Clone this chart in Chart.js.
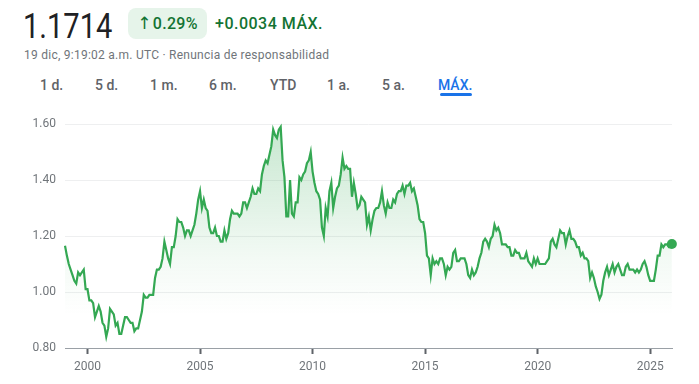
<!DOCTYPE html>
<html><head><meta charset="utf-8">
<script src="https://cdn.jsdelivr.net/npm/chart.js@4.4.1/dist/chart.umd.min.js"></script>
<style>
html,body{margin:0;padding:0;background:#fff;width:699px;height:384px;overflow:hidden;font-family:Roboto,Arial,sans-serif;}
.abs{position:absolute;white-space:nowrap;}
#price{left:23px;top:9px;font-size:35px;line-height:35px;color:#202124;transform:scaleX(0.83);transform-origin:0 0;}
#badge{left:128px;top:8px;width:79px;height:31px;border-radius:8px;background:#e6f4ea;color:#137333;font-size:16px;line-height:31px;text-align:center;font-weight:500;letter-spacing:0.3px;}
#badge .ar{font-family:"DejaVu Sans",sans-serif;font-size:17px;font-weight:400;margin-right:1px;}
#chg{left:215px;top:13px;font-size:16px;line-height:22px;color:#137333;font-weight:500;letter-spacing:0.5px;}
#sub{left:24px;top:47px;font-size:12px;line-height:16px;color:#70757a;letter-spacing:0.25px;}
.tab{top:76px;font-size:14px;line-height:18px;color:#5f6368;font-weight:500;}
#underline{left:440px;top:93px;width:32px;height:3px;border-radius:2px;background:#1a73e8;}
#wrap{position:absolute;left:0;top:100px;width:699px;height:284px;}
</style></head><body>
<div class="abs" id="price">1.1714</div>
<div class="abs" id="badge"><span class="ar">↑</span>0.29%</div>
<div class="abs" id="chg">+0.0034 MÁX.</div>
<div class="abs" id="sub">19 dic, 9:19:02 a.m. UTC · Renuncia de responsabilidad</div>
<div class="abs tab" style="left:40px">1 d.</div>
<div class="abs tab" style="left:95px">5 d.</div>
<div class="abs tab" style="left:150px">1 m.</div>
<div class="abs tab" style="left:209px">6 m.</div>
<div class="abs tab" style="left:270px">YTD</div>
<div class="abs tab" style="left:327px">1 a.</div>
<div class="abs tab" style="left:382px">5 a.</div>
<div class="abs tab" style="left:438px;color:#1a73e8">MÁX.</div>
<div class="abs" id="underline"></div>
<div id="wrap"><canvas id="c" width="699" height="284"></canvas></div>
<script>
// EUR/USD, month-end readings (one row per year, Jan..Dec)
const years = [1999,2000,2001,2002,2003,2004,2005,2006,2007,2008,2009,2010,2011,2012,2013,2014,2015,2016,2017,2018,2019,2020,2021,2022,2023,2024,2025];
const startDate = 1999.0;
const startValue = 1.165;
const lastDate = 2025.964;   // 19 dic 2025
const monthly = [
  [1.13,1.10,1.08,1.06,1.04,1.03,1.07,1.06,1.07,1.08,1.01,1.01],
  [0.97,0.97,0.96,0.91,0.93,0.95,0.93,0.89,0.88,0.84,0.87,0.94],
  [0.93,0.92,0.88,0.89,0.85,0.85,0.88,0.91,0.91,0.90,0.89,0.89],
  [0.86,0.87,0.87,0.90,0.93,0.99,0.98,0.98,0.99,0.99,0.99,1.05],
  [1.08,1.08,1.09,1.12,1.18,1.15,1.12,1.10,1.16,1.16,1.20,1.26],
  [1.25,1.25,1.23,1.20,1.22,1.22,1.20,1.22,1.24,1.28,1.33,1.36],
  [1.30,1.33,1.30,1.29,1.23,1.21,1.21,1.23,1.20,1.20,1.18,1.18],
  [1.22,1.19,1.21,1.26,1.29,1.28,1.28,1.28,1.27,1.28,1.32,1.32],
  [1.30,1.32,1.34,1.37,1.35,1.35,1.37,1.36,1.42,1.45,1.47,1.46],
  [1.49,1.52,1.58,1.56,1.55,1.58,1.59,1.47,1.41,1.27,1.27,1.40],
  [1.28,1.27,1.32,1.32,1.41,1.40,1.42,1.43,1.46,1.47,1.50,1.43],
  [1.39,1.36,1.35,1.33,1.23,1.20,1.30,1.27,1.36,1.39,1.30,1.34],
  [1.37,1.38,1.42,1.48,1.44,1.45,1.44,1.44,1.34,1.39,1.35,1.30],
  [1.31,1.34,1.33,1.32,1.24,1.27,1.22,1.26,1.29,1.30,1.30,1.32],
  [1.36,1.31,1.28,1.32,1.30,1.30,1.33,1.32,1.35,1.36,1.36,1.38],
  [1.35,1.38,1.38,1.39,1.36,1.37,1.34,1.31,1.26,1.25,1.25,1.21],
  [1.13,1.12,1.06,1.12,1.10,1.11,1.10,1.12,1.12,1.10,1.06,1.09],
  [1.08,1.09,1.14,1.15,1.11,1.11,1.12,1.12,1.12,1.10,1.06,1.05],
  [1.08,1.06,1.07,1.09,1.12,1.14,1.18,1.19,1.18,1.16,1.19,1.20],
  [1.24,1.22,1.23,1.21,1.17,1.17,1.17,1.16,1.16,1.13,1.13,1.15],
  [1.14,1.14,1.12,1.12,1.12,1.14,1.11,1.10,1.09,1.12,1.10,1.12],
  [1.10,1.10,1.10,1.10,1.11,1.12,1.18,1.19,1.17,1.16,1.19,1.22],
  [1.21,1.21,1.17,1.20,1.22,1.19,1.19,1.18,1.16,1.16,1.13,1.14],
  [1.12,1.12,1.11,1.05,1.07,1.05,1.02,1.00,0.975,0.99,1.04,1.07],
  [1.09,1.06,1.08,1.10,1.07,1.09,1.10,1.08,1.06,1.06,1.09,1.10],
  [1.08,1.08,1.08,1.07,1.08,1.07,1.08,1.10,1.11,1.09,1.06,1.04],
  [1.04,1.04,1.08,1.13,1.13,1.17,1.16,1.17,1.17,1.16,1.16,1.1714]
];
const xTicks = [2000,2005,2010,2015,2020,2025];
const yTicks = [0.8,1.0,1.2,1.4,1.6];

const pts = [{x:startDate, y:startValue}];
years.forEach((yr, i) => {
  monthly[i].forEach((v, m) => {
    let x = yr + (m + 1) / 12;
    if (i === years.length - 1 && m === 11) x = lastDate;
    pts.push({x, y:v});
  });
});
const last = pts.length - 1;
const green = '#34a853';

new Chart(document.getElementById('c'), {
  type: 'line',
  data: { datasets: [{
    data: pts,
    borderColor: green,
    borderWidth: 2.2,
    tension: 0,
    fill: 'start',
    clip: false,
    backgroundColor: (ctx) => {
      const ch = ctx.chart, ca = ch.chartArea;
      if (!ca) return 'rgba(52,168,83,0.1)';
      const g = ch.ctx.createLinearGradient(0, ca.top, 0, ca.bottom);
      g.addColorStop(0, 'rgba(52,168,83,0.28)');
      g.addColorStop(0.6, 'rgba(52,168,83,0.06)');
      g.addColorStop(0.85, 'rgba(52,168,83,0)');
      g.addColorStop(1, 'rgba(52,168,83,0)');
      return g;
    },
    pointRadius: (c) => c.dataIndex === last ? 5 : 0,
    pointBackgroundColor: green,
    pointBorderWidth: 0,
    pointHoverRadius: 0
  }]},
  options: {
    responsive: false,
    animation: false,
    events: [],
    layout: { padding: { top: 24, right: 27, left: 0, bottom: 0 } },
    plugins: { legend: { display: false }, tooltip: { enabled: false } },
    scales: {
      x: {
        type: 'linear', min: 1999.0, max: 2025.97,
        afterBuildTicks: (s) => { s.ticks = xTicks.map(v => ({ value: v })); },
        afterFit: (s) => { s.height = 36; },
        ticks: { autoSkip: false, maxRotation: 0, padding: 6, color: '#70757a',
                 font: { family: 'Roboto', size: 12 }, callback: (v) => String(v) },
        grid: { drawOnChartArea: false, drawTicks: true, tickLength: 6, tickColor: '#5f6368', tickWidth: 2 },
        border: { display: true, color: '#9aa0a6', width: 1 }
      },
      y: {
        min: 0.8, max: 1.6,
        afterBuildTicks: (s) => { s.ticks = yTicks.map(v => ({ value: v })); },
        afterFit: (s) => { s.width = 65; },
        ticks: { padding: 9, color: '#70757a', font: { family: 'Roboto', size: 12 },
                 callback: (v) => Number(v).toFixed(2) },
        grid: { color: '#eeeff0', lineWidth: 1, drawTicks: false },
        border: { display: false }
      }
    }
  }
});
</script>
</body></html>
